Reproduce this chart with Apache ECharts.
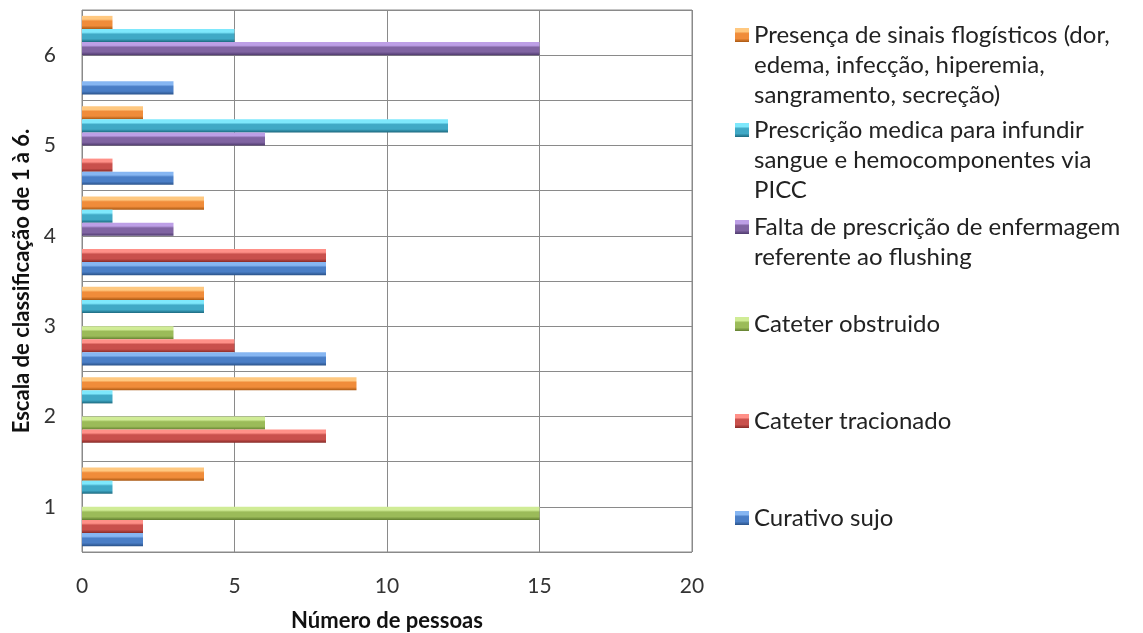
<!DOCTYPE html>
<html>
<head>
<meta charset="utf-8">
<script src="https://cdn.jsdelivr.net/npm/echarts@6/dist/echarts.min.js"></script>
<style>
html,body{margin:0;padding:0;background:#fff;}
#chart{width:1143px;height:633px;}
</style>
</head>
<body>
<div id="chart"></div>
<script>
// ---- data ----
var categories = ['1', '2', '3', '4', '5', '6'];
var seriesNames = [
  'Curativo sujo',
  'Cateter tracionado',
  'Cateter obstruido',
  'Falta de prescrição de enfermagem referente ao flushing',
  'Prescrição medica para infundir sangue e hemocomponentes via PICC',
  'Presença de sinais flogísticos (dor, edema, infecção, hiperemia, sangramento, secreção)'
];
var curativoSujo      = [2, 0, 8, 8, 3, 3];
var cateterTracionado = [2, 8, 5, 8, 1, 0];
var cateterObstruido  = [15, 6, 3, 0, 0, 0];
var faltaPrescricao   = [0, 0, 0, 3, 6, 15];
var prescricaoMedica  = [1, 1, 4, 1, 12, 5];
var presencaSinais    = [4, 9, 4, 4, 2, 1];
var xTicks = [0, 5, 10, 15, 20];
var legendLines = [
  ['Curativo sujo'],
  ['Cateter tracionado'],
  ['Cateter obstruido'],
  ['Falta de prescrição de enfermagem', 'referente ao flushing'],
  ['Prescrição medica para infundir', 'sangue e hemocomponentes via', 'PICC'],
  ['Presença de sinais flogísticos (dor,', 'edema, infecção, hiperemia,', 'sangramento, secreção)']
];

var values = [curativoSujo, cateterTracionado, cateterObstruido, faltaPrescricao, prescricaoMedica, presencaSinais];
var palette = [
  ['#86b6f2', '#4a7ec6', '#2a5289'],
  ['#ff9088', '#c9504c', '#862a27'],
  ['#d0ec96', '#9bbb59', '#627f30'],
  ['#bd9fe6', '#8064a2', '#4e3a6d'],
  ['#7ee8fc', '#40a9c6', '#1c687e'],
  ['#ffc880', '#f08c3a', '#a95812']
];
var legendCenters = [518, 421, 324, 227, 130, 35];
var FONT = 'Lato';

function grad(c) {
  return new echarts.graphic.LinearGradient(0, 0, 0, 1, [
    {offset: 0, color: c[0]},
    {offset: 0.25, color: c[0]},
    {offset: 0.4, color: c[1]},
    {offset: 0.75, color: c[1]},
    {offset: 1, color: c[2]}
  ]);
}

var series = [];
for (var i = values.length - 1; i >= 0; i--) {
  series.push({
    name: seriesNames[i],
    type: 'bar',
    yAxisIndex: 0,
    data: values[i],
    barGap: '0%',
    barCategoryGap: '13%',
    itemStyle: {color: grad(palette[i]), borderWidth: 0},
    emphasis: {disabled: true}
  });
}

var legends = seriesNames.map(function (n, i) {
  return {
    data: [{name: n, itemStyle: {color: grad(palette[i]), borderWidth: 0}}],
    left: 735,
    top: legendCenters[i] - 15,
    padding: 0,
    orient: 'vertical',
    itemWidth: 14,
    itemHeight: 14,
    selectedMode: false,
    icon: 'rect',
    formatter: function () { return legendLines[i][0]; },
    textStyle: {fontFamily: FONT, fontSize: 24, color: '#222', lineHeight: 30, padding: 0}
  };
});

var graphics = [];
legendLines.forEach(function (lines, i) {
  for (var k = 1; k < lines.length; k++) {
    graphics.push({
      type: 'text',
      x: 754,
      y: legendCenters[i] + 30 * k,
      style: {text: lines[k], font: '24px ' + FONT, fill: '#222', verticalAlign: 'middle', textVerticalAlign: 'middle'}
    });
  }
});

var halfCats = [];
for (var h = 0; h < categories.length * 2; h++) halfCats.push('h' + h);

var option = {
  animation: false,
  backgroundColor: '#fff',
  grid: {left: 82, right: 451, top: 10, bottom: 81, show: true, borderColor: '#8a8a8a', borderWidth: 1,
         containLabel: false, outerBoundsMode: 'none'},
  xAxis: {
    type: 'value', min: xTicks[0], max: xTicks[xTicks.length - 1], interval: 5,
    name: 'Número de pessoas', nameLocation: 'middle', nameGap: 58,
    nameTextStyle: {fontFamily: FONT, fontWeight: 'bold', fontSize: 22, color: '#111'},
    axisLine: {show: false}, axisTick: {show: false},
    axisLabel: {fontFamily: FONT, fontSize: 21, color: '#333', margin: 24},
    splitLine: {lineStyle: {color: '#8a8a8a', width: 1}}
  },
  yAxis: [{
    type: 'category', data: categories,
    name: 'Escala de classificação de 1 à 6.', nameLocation: 'middle', nameGap: 47,
    nameTextStyle: {fontFamily: FONT, fontWeight: 'bold', fontSize: 22, color: '#111'},
    axisLine: {show: false}, axisTick: {show: false},
    axisLabel: {fontFamily: FONT, fontSize: 21, color: '#333', margin: 26},
    splitLine: {show: false}
  }, {
    type: 'category', data: halfCats, position: 'right',
    axisLine: {show: false}, axisTick: {show: false}, axisLabel: {show: false},
    splitLine: {show: true, lineStyle: {color: '#8a8a8a', width: 1}}
  }],
  legend: legends,
  graphic: graphics,
  series: series
};

var chart = echarts.init(document.getElementById('chart'), null, {renderer: 'canvas'});
chart.setOption(option);
</script>
</body>
</html>
